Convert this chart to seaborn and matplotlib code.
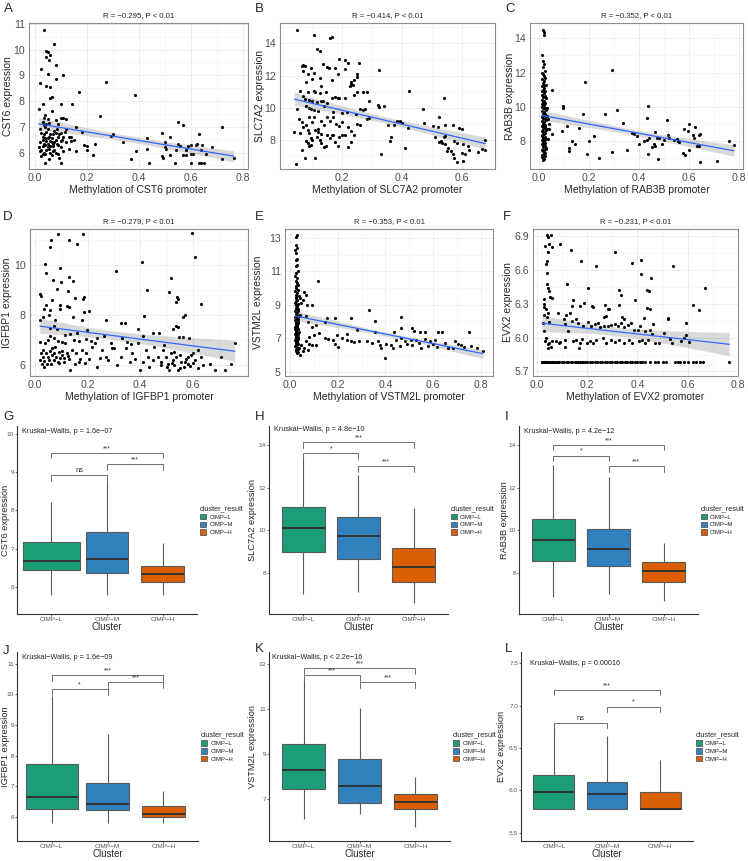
import numpy as np
import pandas as pd
import matplotlib
matplotlib.use("Agg")
import matplotlib.pyplot as plt
from matplotlib.patches import Patch
import seaborn as sns

# ---------------------------------------------------------------- data
genes = ["CST6", "SLC7A2", "RAB3B", "IGFBP1", "VSTM2L", "EVX2"]
scatter_titles = ["R = −0.295, P < 0.01", "R = −0.414, P < 0.01", "R = −0.352, P < 0.01",
                  "R = −0.279, P < 0.01", "R = −0.353, P < 0.01", "R = −0.231, P < 0.01"]

cst6_pts = [
    (0.035,10.75),(0.075,10.2),(0.045,9.95),(0.05,9.9),(0.06,9.8),(0.045,9.7),(0.055,9.6),(0.08,9.4),
    (0.025,9.25),(0.11,9.0),(0.05,9.05),(0.02,8.7),(0.08,8.85),(0.045,8.6),(0.06,8.55),(0.065,8.15),
    (0.06,8.1),(0.17,8.35),(0.275,8.75),(0.385,8.25),(0.03,7.9),(0.1,7.9),(0.145,7.9),(0.015,7.7),
    (0.065,7.6),(0.25,7.4),(0.04,7.45),(0.035,7.35),(0.05,7.3),(0.1,7.35),(0.11,7.35),(0.03,7.2),
    (0.055,7.15),(0.08,7.25),(0.09,7.1),(0.16,7.0),(0.12,7.3),
    (0.55,7.2),(0.57,7.05),(0.72,7.0),(0.63,6.7),(0.49,6.75),(0.52,6.6),(0.43,6.55),(0.3,6.7),
    (0.295,6.65),(0.34,6.4),(0.14,6.6),(0.15,6.5),(0.18,6.8),(0.19,6.3),(0.23,6.35),(0.2,6.25),
    (0.16,6.05),(0.13,6.6),(0.12,6.4),(0.5,6.4),(0.5,6.2),(0.505,6.15),(0.55,6.35),(0.56,6.25),
    (0.58,6.1),(0.59,6.25),(0.6,6.3),(0.62,6.3),(0.625,6.35),(0.6,5.95),(0.61,5.95),(0.64,6.1),
    (0.66,5.95),(0.68,6.2),(0.645,6.3),(0.43,6.15),(0.39,6.05),(0.37,5.75),(0.44,5.58),(0.49,5.85),
    (0.495,5.8),(0.52,5.9),(0.54,5.58),(0.545,6.1),(0.6,5.58),(0.63,5.58),(0.64,5.58),(0.65,5.58),
    (0.72,5.75),(0.765,5.8),(0.225,5.9),(0.2,6.1),(0.1,5.58),(0.04,5.58),(0.57,5.92),(0.58,5.92),
    (0.02,6.4),(0.025,6.1),(0.03,6.5),(0.035,6.0),(0.04,6.3),(0.045,6.8),(0.05,6.2),(0.055,6.6),
    (0.06,6.0),(0.065,6.4),(0.07,6.7),(0.075,6.1),(0.08,6.5),(0.085,6.9),(0.09,6.3),(0.095,6.7),
    (0.1,6.2),(0.105,6.5),(0.11,6.05),(0.115,6.8),(0.02,6.9),(0.025,5.85),(0.03,6.25),(0.035,6.7),
    (0.04,5.95),(0.045,6.45),(0.05,6.9),(0.055,6.15),(0.06,6.45),(0.065,5.9),(0.07,6.25),(0.075,6.85),
    (0.08,6.0),(0.085,6.35),(0.09,6.6),(0.095,5.8),(0.1,6.75),(0.03,6.6),(0.04,7.0),(0.05,6.55),
    (0.06,6.7),(0.07,6.35),(0.08,6.75),(0.09,5.95),(0.035,6.35),(0.045,6.1),(0.055,5.75),(0.065,6.55),
    (0.075,6.4),(0.02,6.05),(0.03,5.95),(0.05,6.35),(0.04,6.55),(0.06,6.25),(0.07,6.05),(0.13,6.15),
    (0.14,6.45),(0.12,6.9),(0.1,6.45),(0.11,6.6),(0.035,7.05),(0.045,7.1),(0.025,6.75),(0.015,6.2),
]

slc7a2_pts = [
    (0.05,14.85),(0.105,14.55),(0.16,14.35),(0.165,14.4),(0.115,13.65),(0.125,13.5),(0.19,13.0),
    (0.21,12.95),(0.255,12.8),(0.22,12.8),(0.07,12.65),(0.075,12.6),(0.065,12.6),(0.15,12.55),
    (0.155,12.45),(0.175,12.45),(0.095,12.5),(0.135,12.75),(0.325,12.35),(0.21,12.4),(0.07,12.3),
    (0.085,12.1),(0.105,12.15),(0.185,12.1),(0.25,12.1),(0.25,11.9),(0.125,11.85),(0.24,11.75),
    (0.23,11.6),(0.23,11.5),(0.235,11.4),(0.225,11.35),(0.165,11.75),(0.1,11.8),(0.08,11.6),
    (0.13,11.35),(0.425,11.05),(0.06,11.05),(0.085,11.0),(0.11,10.95),(0.105,11.05),(0.125,10.9),
    (0.145,11.0),(0.25,11.0),(0.27,10.95),(0.285,10.95),(0.24,10.8),(0.21,10.6),(0.185,10.6),
    (0.19,10.6),(0.175,10.65),(0.165,10.6),(0.07,10.75),(0.075,10.55),(0.09,10.5),(0.1,10.4),
    (0.115,10.35),(0.13,10.4),(0.135,10.45),(0.15,10.3),(0.14,10.1),(0.54,10.6),(0.29,10.4),
    (0.32,10.2),(0.325,10.05),(0.34,10.1),(0.26,9.95),(0.27,9.85),(0.275,9.9),(0.05,9.95),(0.08,10.1),
    (0.09,10.0),(0.095,9.95),(0.105,9.85),(0.12,9.8),(0.17,9.75),(0.2,9.7),(0.215,9.75),(0.245,9.6),
    (0.29,9.35),(0.285,9.3),(0.47,9.95),(0.525,9.45),(0.385,9.2),(0.395,9.2),(0.375,8.95),(0.4,9.05),
    (0.355,8.95),(0.42,8.75),(0.475,9.05),(0.505,8.85),(0.52,8.8),(0.545,8.9),(0.57,8.9),(0.59,8.75),
    (0.6,8.65),(0.51,8.2),(0.54,8.2),(0.545,8.25),(0.53,7.95),(0.525,7.85),(0.535,7.8),(0.545,7.75),
    (0.575,7.95),(0.585,7.8),(0.605,7.75),(0.62,7.6),(0.625,7.4),(0.655,7.25),(0.67,7.45),(0.68,7.35),
    (0.68,8.0),(0.555,7.5),(0.565,7.3),(0.57,7.1),(0.575,6.9),(0.585,6.6),(0.6,7.2),(0.605,6.7),
    (0.61,7.15),(0.55,7.3),(0.36,7.95),(0.365,8.2),(0.41,7.5),(0.33,7.1),(0.22,7.55),(0.23,7.85),
    (0.185,7.6),(0.175,7.85),(0.04,8.5),(0.045,6.5),(0.06,8.4),(0.065,7.35),(0.075,6.9),(0.08,7.95),
    (0.085,7.8),(0.09,7.65),(0.095,7.7),(0.1,8.0),(0.11,6.9),(0.115,8.2),(0.12,8.5),(0.125,8.0),
    (0.13,7.8),(0.14,7.55),(0.145,7.6),(0.15,8.3),(0.16,8.1),(0.165,8.3),(0.17,8.3),(0.19,8.2),
    (0.2,8.3),(0.21,8.3),(0.22,8.8),(0.23,8.55),(0.24,8.3),(0.25,9.0),(0.26,8.9),(0.055,9.3),
    (0.065,9.1),(0.07,8.8),(0.08,8.9),(0.09,9.4),(0.1,9.1),(0.105,9.4),(0.11,8.6),(0.12,8.7),
    (0.13,9.15),(0.14,8.9),(0.15,9.4),(0.16,9.2),(0.17,9.4),(0.18,9.0),(0.19,8.85),(0.2,9.1),
    (0.09,8.4),(0.085,8.6),(0.13,8.35),(0.095,8.1),
]

rab3b_pts = [
    (0.015,14.5),(0.018,14.35),(0.02,14.2),(0.012,13.05),(0.016,12.7),(0.02,12.5),(0.014,12.3),
    (0.022,12.1),(0.01,11.95),(0.018,11.8),(0.024,11.7),(0.012,11.6),(0.02,11.5),(0.016,11.4),
    (0.026,11.3),(0.01,11.2),(0.02,11.1),(0.014,11.0),(0.024,10.9),(0.018,10.8),(0.012,10.7),
    (0.022,10.6),(0.016,10.55),(0.028,10.5),(0.01,10.4),(0.02,10.3),(0.014,10.25),(0.024,10.2),
    (0.018,10.1),(0.012,10.0),(0.022,9.95),(0.016,9.9),(0.026,9.8),(0.01,9.75),(0.02,9.7),
    (0.014,9.6),(0.024,9.55),(0.018,9.5),(0.03,9.45),(0.012,9.4),(0.022,9.35),(0.016,9.3),
    (0.026,9.2),(0.01,9.15),(0.02,9.1),(0.014,9.0),(0.024,8.95),(0.018,8.9),(0.012,8.85),
    (0.022,8.8),(0.016,8.7),(0.028,8.65),(0.01,8.6),(0.02,8.55),(0.014,8.5),(0.024,8.45),
    (0.018,8.4),(0.012,8.3),(0.022,8.25),(0.016,8.2),(0.026,8.1),(0.01,8.05),(0.02,8.0),
    (0.014,7.95),(0.024,7.9),(0.018,7.85),(0.012,7.8),(0.022,7.7),(0.016,7.65),(0.026,7.6),
    (0.01,7.5),(0.02,7.45),(0.014,7.4),(0.024,7.3),(0.018,7.25),(0.012,7.2),(0.022,7.1),
    (0.016,7.0),(0.02,6.95),(0.014,6.9),
    (0.017,11.9),(0.021,11.25),(0.013,10.95),(0.025,10.65),(0.019,10.35),(0.011,10.15),(0.023,9.85),
    (0.015,9.65),(0.027,9.25),(0.019,8.75),(0.011,8.35),(0.023,8.15),(0.015,7.75),(0.027,7.55),
    (0.019,7.35),(0.011,7.05),(0.03,8.7),(0.032,9.9),(0.034,8.1),(0.036,9.3),
    (0.05,11.0),(0.095,10.05),(0.095,9.95),(0.185,11.45),(0.29,12.15),(0.175,9.6),(0.265,9.6),
    (0.31,9.8),(0.435,10.05),(0.43,9.35),(0.51,9.2),(0.335,9.05),(0.6,9.0),(0.58,8.7),(0.625,8.8),
    (0.64,8.35),(0.645,8.4),(0.62,8.2),(0.595,8.6),(0.09,8.6),(0.11,8.85),(0.16,8.75),(0.05,8.4),
    (0.04,8.7),(0.04,9.0),(0.2,8.0),(0.22,8.3),(0.12,7.6),(0.12,7.4),(0.13,8.0),(0.145,7.8),
    (0.19,7.25),(0.24,7.0),(0.29,7.35),(0.35,7.45),(0.37,8.45),(0.38,8.4),(0.39,8.3),(0.4,7.8),
    (0.42,8.0),(0.43,8.05),(0.44,8.15),(0.435,7.25),(0.45,7.65),(0.46,7.8),(0.465,8.5),(0.465,7.7),
    (0.47,8.2),(0.475,6.95),(0.48,8.15),(0.49,7.85),(0.5,8.05),(0.515,8.35),(0.52,8.15),(0.54,8.05),
    (0.55,8.1),(0.555,8.0),(0.56,7.95),(0.575,7.3),(0.585,7.15),(0.6,7.45),(0.615,8.35),(0.63,7.7),
    (0.64,7.7),(0.645,6.75),(0.71,6.85),(0.76,8.0),(0.78,7.75),
]

igfbp1_pts = [
    (0.086,11.26),(0.06,11.03),(0.055,10.75),(0.13,11.02),(0.16,10.85),(0.18,11.26),(0.596,11.3),
    (0.607,10.35),(0.405,10.14),(0.038,10.04),(0.096,9.9),(0.041,9.67),(0.307,9.77),(0.13,9.54),
    (0.144,9.35),(0.098,9.32),(0.066,9.4),(0.517,9.47),(0.424,9.0),(0.511,8.92),(0.017,8.86),
    (0.125,8.98),(0.083,9.05),(0.022,8.78),(0.54,8.73),(0.545,8.64),(0.535,8.54),(0.63,8.45),
    (0.184,8.71),(0.183,8.64),(0.15,8.68),(0.064,8.59),(0.042,8.41),(0.096,8.41),(0.032,8.24),
    (0.096,8.24),(0.121,8.35),(0.129,8.32),(0.204,8.14),(0.185,8.12),(0.179,7.8),(0.142,7.91),
    (0.415,7.94),(0.572,8.0),(0.562,7.91),(0.536,7.56),(0.545,7.5),(0.268,7.78),(0.077,7.8),
    (0.029,7.91),(0.051,8.0),(0.057,8.18),(0.019,7.8),(0.07,7.56),(0.083,7.44),(0.057,7.46),
    (0.198,7.4),(0.16,7.29),(0.262,7.15),(0.326,7.67),(0.341,7.67),(0.392,7.45),(0.409,7.15),
    (0.447,7.26),(0.473,7.26),(0.524,7.45),(0.549,7.13),(0.562,7.13),(0.584,7.06),(0.76,6.85),
    (0.709,6.31),(0.747,6.04),(0.721,5.77),(0.683,5.77),(0.664,6.04),(0.632,6.31),(0.619,6.58),
    (0.607,6.18),(0.594,6.38),(0.581,6.04),(0.575,6.24),(0.568,5.9),(0.556,6.11),(0.543,5.77),
    (0.536,6.31),(0.53,5.97),(0.524,6.18),(0.517,6.45),(0.511,5.77),(0.504,6.04),(0.498,6.31),
    (0.492,6.79),(0.488,6.58),(0.479,6.11),(0.466,6.31),(0.453,6.72),(0.447,6.18),(0.434,5.9),
    (0.428,6.31),(0.421,6.58),(0.409,6.11),(0.4,5.77),(0.39,6.85),(0.381,6.24),(0.37,6.45),
    (0.364,6.83),(0.361,6.11),(0.345,6.65),(0.326,6.31),(0.31,5.97),(0.294,6.65),(0.287,6.88),
    (0.277,6.18),(0.268,6.31),(0.255,6.58),(0.246,6.28),(0.236,5.9),(0.227,6.85),(0.217,6.72),
    (0.204,6.24),(0.195,6.45),(0.188,6.07),(0.179,6.58),(0.172,6.24),(0.166,6.11),(0.157,6.45),
    (0.15,6.04),(0.14,6.58),(0.132,5.77),(0.128,6.24),(0.119,6.45),(0.115,6.85),(0.109,6.11),
    (0.102,6.38),(0.096,6.28),(0.089,6.52),(0.086,6.11),(0.08,6.31),(0.077,6.72),(0.07,6.18),
    (0.064,6.38),(0.06,6.01),(0.055,6.56),(0.051,6.2),(0.045,6.04),(0.042,6.45),(0.038,6.85),
    (0.034,6.15),(0.029,6.31),(0.026,6.04),(0.022,6.47),(0.017,6.92),(0.019,6.18),(0.032,5.9),
    (0.047,6.99),(0.057,7.15),(0.073,7.06),(0.086,6.96),(0.102,6.92),(0.115,7.19),(0.134,7.23),
    (0.147,6.99),(0.166,6.96),(0.192,7.02),(0.211,6.96),(0.236,7.06),(0.3,6.65),(0.332,7.06),
    (0.351,6.92),(0.48,6.0),(0.5,5.9),(0.52,6.05),(0.55,5.85),(0.57,6.1),(0.59,5.95),(0.6,6.05),
    (0.62,5.85),(0.64,6.0),(0.55,6.4),(0.58,6.3),(0.53,6.5),(0.6,6.45),(0.05,6.3),(0.07,6.45),
    (0.09,6.05),(0.11,6.25),(0.03,6.6),(0.065,6.65),(0.1,6.55),(0.125,6.35),
]

vstm2l_pts = [
    (0.03,13.15),(0.028,13.05),(0.025,12.6),(0.03,12.4),(0.022,12.3),(0.028,12.1),(0.032,11.75),
    (0.026,11.7),(0.03,11.4),(0.024,11.3),(0.034,11.0),(0.028,10.9),(0.022,10.7),(0.032,10.6),
    (0.026,10.4),(0.03,10.3),(0.036,10.2),(0.024,10.1),(0.028,10.0),(0.034,9.9),(0.022,9.8),
    (0.03,9.7),(0.026,9.6),(0.038,9.5),(0.024,9.4),(0.032,9.3),(0.028,9.2),(0.022,9.1),(0.036,9.05),
    (0.026,9.0),(0.03,8.9),(0.024,8.8),(0.034,8.75),(0.028,8.7),(0.022,8.6),(0.032,8.55),(0.026,8.5),
    (0.03,8.4),(0.038,8.35),(0.024,8.3),(0.028,8.2),(0.034,8.15),(0.022,8.1),(0.03,8.0),(0.026,7.95),
    (0.036,7.9),(0.024,7.85),(0.032,7.8),(0.028,7.7),(0.022,7.65),(0.03,7.6),(0.034,7.55),(0.026,7.5),
    (0.024,7.45),(0.038,7.4),(0.028,7.35),(0.032,7.3),(0.022,7.25),(0.03,7.2),(0.026,7.15),(0.034,7.1),
    (0.024,7.05),(0.028,7.0),(0.036,6.95),(0.022,6.9),(0.032,6.85),(0.026,6.8),(0.03,6.75),(0.024,6.7),
    (0.034,6.65),(0.028,6.6),(0.022,6.55),(0.032,6.5),(0.026,6.45),(0.038,6.4),(0.03,6.35),(0.024,6.3),
    (0.028,6.25),(0.034,6.15),(0.03,6.1),
    (0.027,9.45),(0.031,8.95),(0.025,8.45),(0.033,8.05),(0.029,7.75),(0.023,7.55),(0.035,7.25),
    (0.027,6.95),(0.031,6.7),(0.025,6.55),(0.033,6.35),(0.029,7.05),(0.023,8.25),(0.035,8.65),
    (0.118,10.4),(0.061,9.79),(0.068,9.56),(0.054,9.26),(0.047,9.13),(0.07,8.97),(0.094,8.97),
    (0.041,9.4),(0.33,8.67),(0.467,8.28),(0.257,8.22),(0.157,8.22),(0.19,8.18),(0.041,8.41),
    (0.068,8.34),(0.149,7.95),(0.108,7.79),(0.075,7.99),(0.094,7.69),(0.356,8.03),(0.512,7.59),
    (0.519,7.44),(0.465,7.59),(0.546,7.36),(0.566,7.36),(0.621,7.4),(0.635,7.36),(0.75,7.36),
    (0.436,7.36),(0.356,7.36),(0.282,7.5),(0.241,7.24),(0.22,7.04),(0.122,7.3),(0.081,7.1),
    (0.102,7.2),(0.149,7.0),(0.16,6.96),(0.18,6.9),(0.198,7.2),(0.19,6.65),(0.2,6.45),(0.241,6.9),
    (0.255,6.85),(0.268,6.77),(0.289,6.81),(0.323,6.81),(0.343,6.71),(0.37,6.81),(0.377,6.57),
    (0.381,6.41),(0.404,6.65),(0.424,6.61),(0.431,6.41),(0.397,5.83),(0.446,6.9),(0.465,7.0),
    (0.483,6.81),(0.492,6.65),(0.505,6.9),(0.526,6.9),(0.54,6.71),(0.566,6.96),(0.587,6.81),
    (0.598,6.65),(0.608,6.9),(0.614,6.45),(0.662,6.41),(0.683,6.41),(0.702,6.65),(0.716,6.57),
    (0.73,6.45),(0.756,6.51),(0.784,6.41),(0.808,6.22),(0.69,6.85),(0.65,6.71),(0.58,6.51),
    (0.549,6.41),(0.512,6.61),(0.459,6.51),(0.068,6.81),(0.081,6.65),(0.094,6.57),(0.061,6.41),
    (0.075,6.32),(0.108,6.61),(0.047,6.57),(0.054,6.22),(0.041,6.02),
]

evx2_pts = [
    (0.02,5.78),(0.025,5.78),(0.03,5.78),(0.035,5.78),(0.04,5.78),(0.05,5.78),(0.06,5.78),(0.07,5.78),
    (0.085,5.78),(0.1,5.78),(0.12,5.78),(0.135,5.78),(0.15,5.78),(0.165,5.78),(0.18,5.78),(0.19,5.78),
    (0.2,5.78),(0.21,5.78),(0.22,5.78),(0.23,5.78),(0.24,5.78),(0.25,5.78),(0.26,5.78),(0.27,5.78),
    (0.28,5.78),(0.29,5.78),(0.3,5.78),(0.31,5.78),(0.32,5.78),(0.33,5.78),(0.34,5.78),(0.35,5.78),
    (0.36,5.78),(0.37,5.78),(0.38,5.78),(0.39,5.78),(0.4,5.78),(0.41,5.78),(0.42,5.78),(0.43,5.78),
    (0.45,5.78),(0.47,5.78),(0.48,5.78),(0.5,5.78),(0.515,5.78),(0.55,5.78),(0.56,5.78),(0.57,5.78),
    (0.585,5.78),(0.6,5.78),(0.62,5.78),(0.635,5.78),(0.65,5.78),(0.66,5.78),(0.765,5.78),
    (0.022,5.78),(0.028,5.78),(0.033,5.78),(0.038,5.78),(0.045,5.78),(0.055,5.78),(0.065,5.78),
    (0.075,5.78),(0.09,5.78),(0.11,5.78),(0.125,5.78),(0.14,5.78),(0.155,5.78),(0.17,5.78),(0.185,5.78),
    (0.039,6.91),(0.043,6.89),(0.056,6.91),(0.032,6.81),(0.049,6.83),(0.062,6.8),(0.092,6.83),
    (0.04,6.68),(0.036,6.65),(0.045,6.76),(0.137,6.77),(0.175,6.68),(0.234,6.63),(0.312,6.76),
    (0.377,6.66),(0.416,6.69),(0.416,6.56),(0.454,6.53),(0.542,6.63),(0.04,6.57),(0.04,6.47),
    (0.045,6.44),(0.049,6.41),(0.12,6.47),(0.053,6.36),(0.06,6.35),(0.202,6.44),(0.328,6.42),
    (0.334,6.38),(0.44,6.42),(0.448,6.41),(0.669,6.44),(0.392,6.33),(0.03,6.34),(0.027,6.3),
    (0.03,6.27),(0.036,6.25),(0.045,6.22),(0.085,6.22),(0.144,6.33),(0.14,6.28),(0.172,6.28),
    (0.188,6.31),(0.221,6.28),(0.224,6.27),(0.27,6.29),(0.282,6.25),(0.289,6.25),(0.325,6.29),
    (0.438,6.26),(0.45,6.25),(0.621,6.29),(0.646,6.24),(0.03,6.2),(0.039,6.18),(0.118,6.2),
    (0.131,6.22),(0.157,6.16),(0.269,6.18),(0.276,6.19),(0.338,6.18),(0.347,6.16),(0.427,6.17),
    (0.522,6.16),(0.522,6.17),(0.594,6.13),(0.025,6.13),(0.049,6.14),(0.107,6.16),(0.114,6.12),
    (0.14,6.15),(0.162,6.13),(0.185,6.1),(0.205,6.14),(0.217,6.1),(0.23,6.12),(0.243,6.13),
    (0.25,6.09),(0.269,6.1),(0.282,6.1),(0.295,6.11),(0.312,6.12),(0.321,6.1),(0.334,6.13),
    (0.347,6.09),(0.364,6.11),(0.373,6.13),(0.386,6.07),(0.403,6.07),(0.412,6.1),(0.431,6.06),
    (0.45,6.07),(0.457,6.03),(0.463,6.12),(0.505,6.04),(0.528,5.99),(0.586,6.0),(0.595,6.02),
    (0.03,6.06),(0.036,6.0),(0.032,5.97),(0.043,5.94),(0.049,5.95),(0.062,5.97),(0.075,5.97),
    (0.088,5.95),(0.094,5.96),(0.114,5.98),(0.123,6.06),(0.146,5.97),(0.157,5.98),(0.17,5.95),
    (0.179,5.99),(0.198,5.95),(0.211,5.97),(0.224,5.95),(0.237,5.98),(0.263,6.0),(0.276,5.95),
    (0.295,5.98),(0.312,5.96),(0.328,5.98),(0.347,5.95),(0.366,5.98),(0.379,5.95),(0.405,5.97),
    (0.418,5.98),(0.431,5.95),(0.444,5.98),(0.47,5.95),(0.485,5.95),(0.537,5.95),(0.573,5.97),
    (0.606,5.96),(0.043,5.91),(0.056,5.92),(0.114,5.92),(0.166,5.91),
]

scatter_data = [cst6_pts, slc7a2_pts, rab3b_pts, igfbp1_pts, vstm2l_pts, evx2_pts]
scatter_xlims = [(-0.022, 0.82), (-0.008, 0.712), (-0.037, 0.816), (-0.02, 0.81), (-0.02, 0.85), (-0.015, 0.80)]
scatter_ylims = [(5.36, 11.03), (6.19, 15.27), (6.36, 14.9), (5.54, 11.46), (4.74, 13.53), (5.66, 6.96)]
scatter_xticks = [[0.0, 0.2, 0.4, 0.6, 0.8], [0.2, 0.4, 0.6], [0.0, 0.2, 0.4, 0.6, 0.8],
                  [0.0, 0.2, 0.4, 0.6], [0.0, 0.2, 0.4, 0.6, 0.8], [0.0, 0.2, 0.4, 0.6, 0.8]]
scatter_yticks = [[6, 7, 8, 9, 10, 11], [8, 10, 12, 14], [8, 10, 12, 14],
                  [6, 8, 10], [5, 7, 9, 11, 13], [5.7, 6.0, 6.3, 6.6, 6.9]]
scatter_yfmt = ["{:.0f}", "{:.0f}", "{:.0f}", "{:.0f}", "{:.0f}", "{:.1f}"]

groups = ["CIMP−L", "CIMP−M", "CIMP−H"]
palette = ["#1B9E77", "#3181BD", "#D95F02"]

# five-number summaries [min, q1, median, q3, max] per cluster
cst6_box = [[5.78, 6.45, 6.68, 7.18, 8.21], [5.78, 6.36, 6.72, 7.43, 8.8], [5.78, 6.12, 6.34, 6.55, 7.15]]
slc7a2_box = [[7.02, 9.01, 10.12, 11.11, 13.4], [7.14, 8.65, 9.73, 10.65, 12.6], [6.63, 7.61, 8.31, 9.2, 11.04]]
rab3b_box = [[6.91, 8.57, 9.56, 10.55, 13.06], [7.02, 8.36, 9.12, 10.07, 12.48], [6.72, 7.61, 8.1, 8.55, 9.43]]
igfbp1_box = [[5.79, 6.25, 6.65, 7.72, 9.95], [5.79, 6.21, 6.43, 7.1, 8.72], [5.79, 6.0, 6.08, 6.35, 6.84]]
vstm2l_box = [[6.09, 7.45, 8.28, 9.44, 12.3], [6.31, 6.82, 7.58, 8.77, 11.05], [5.76, 6.53, 6.86, 7.19, 7.99]]
evx2_box = [[5.78, 5.78, 5.98, 6.18, 6.79], [5.78, 5.78, 5.96, 6.10, 6.64], [5.78, 5.78, 5.78, 5.98, 6.36]]
box_data = [cst6_box, slc7a2_box, rab3b_box, igfbp1_box, vstm2l_box, evx2_box]

kw_labels = ["Kruskal−Wallis, p = 1.6e−07", "Kruskal−Wallis, p = 4.8e−10", "Kruskal−Wallis, p = 4.2e−12",
             "Kruskal−Wallis, p = 1.6e−09", "Kruskal−Wallis, p < 2.2e−16", "Kruskal−Wallis, p = 0.00016"]

# pairwise comparisons: (group i, group j, bracket height, label)
cst6_sig = [(0, 1, 8.92, "ns"), (1, 2, 9.2, "***"), (0, 2, 9.5, "***")]
slc7a2_sig = [(0, 1, 13.6, "*"), (1, 2, 13.0, "***"), (0, 2, 14.12, "***")]
rab3b_sig = [(0, 1, 13.5, "*"), (1, 2, 13.0, "***"), (0, 2, 14.0, "***")]
igfbp1_sig = [(0, 1, 10.16, "*"), (1, 2, 10.4, "***"), (0, 2, 10.63, "***")]
vstm2l_sig = [(0, 1, 12.5, "***"), (1, 2, 12.2, "***"), (0, 2, 12.8, "***")]
evx2_sig = [(0, 1, 6.80, "ns"), (1, 2, 6.99, "*"), (0, 2, 7.19, "***")]
sig_data = [cst6_sig, slc7a2_sig, rab3b_sig, igfbp1_sig, vstm2l_sig, evx2_sig]

box_ylims = [(5.295, 10.2), (6.10, 14.88), (6.10, 14.88), (5.205, 11.386), (5.12, 13.53), (5.40, 7.636)]
box_yticks = [[6, 7, 8, 9, 10], [8, 10, 12, 14], [8, 10, 12, 14], [6, 7, 8, 9, 10, 11], [7, 9, 11, 13],
              [5.5, 6.0, 6.5, 7.0, 7.5]]
box_yfmt = ["{:.0f}"] * 5 + ["{:.1f}"]
# box widths per cluster (the CIMP-L box is drawn wider in panels G and J)
box_widths = [[1.04, 0.77, 0.77], [0.77, 0.77, 0.77], [0.77, 0.77, 0.77],
              [0.93, 0.77, 0.77], [0.77, 0.77, 0.77], [0.77, 0.77, 0.77]]

# ---------------------------------------------------------------- layout
sns.set_theme(style="white")
plt.rcParams["font.family"] = ["Liberation Sans", "DejaVu Sans"]
plt.rcParams["axes.unicode_minus"] = True

W, H = 748, 861
fig = plt.figure(figsize=(W / 100, H / 100), dpi=100)


def px_axes(l, t, r, b):
    return fig.add_axes([l / W, 1 - b / H, (r - l) / W, (b - t) / H])


scatter_boxes = [(29, 23, 248, 169), (280, 23, 495, 169), (530, 23, 743, 169),
                 (30, 229, 248, 376), (285, 229, 493, 376), (533, 229, 738, 376)]
scatter_ylab_x = [13, 265, 515, 12, 263, 513]
box_boxes = [(17, 426, 197, 614), (269, 426, 448, 614), (519, 426, 698, 614),
             (17, 652, 198, 841), (269, 652, 450, 841), (521, 652, 693, 841)]
box_ylab_x = [10.5, 257, 509, 10.5, 257, 506]
kw_pos = [(0.028, 0.972), (0.028, 0.98), (0.028, 0.972), (0.026, 0.969), (0.017, 0.969), (0.05, 0.9375)]

letters = ["A", "B", "C", "D", "E", "F", "G", "H", "I", "J", "K", "L"]
letter_pos = [(4, 9), (255, 9), (505, 9), (3, 217), (255, 217), (503, 217),
              (3, 417), (255, 417), (505, 417), (3, 651), (255, 649), (505, 649)]

# ---------------------------------------------------------------- scatter panels
for k in range(6):
    l, t, r, b = scatter_boxes[k]
    ax = px_axes(l, t, r, b)
    pts = scatter_data[k]
    df = pd.DataFrame({"meth": [p[0] for p in pts], "expr": [p[1] for p in pts]})
    sns.scatterplot(data=df, x="meth", y="expr", ax=ax, s=5, color="black", linewidth=0, zorder=2)
    # confidence band (grey) and fitted line (blue)
    n_before = len(ax.collections)
    sns.regplot(data=df, x="meth", y="expr", ax=ax, scatter=False, color="black", ci=95, seed=3,
                truncate=True, line_kws=dict(lw=0, alpha=0))
    for c in ax.collections[n_before:]:
        c.set_zorder(3)
    sns.regplot(data=df, x="meth", y="expr", ax=ax, scatter=False, ci=None, truncate=True,
                line_kws=dict(color="#3366FF", lw=0.9, zorder=4))
    xt = scatter_xticks[k]
    yt = scatter_yticks[k]
    ax.set_xticks(xt)
    ax.set_xticklabels(["{:.1f}".format(v) for v in xt])
    ax.set_yticks(yt)
    ax.set_yticklabels([scatter_yfmt[k].format(v) for v in yt])
    dx = xt[1] - xt[0]
    dy = yt[1] - yt[0]
    ax.set_xticks([xt[0] - dx / 2] + [v + dx / 2 for v in xt], minor=True)
    ax.set_yticks([yt[0] - dy / 2] + [v + dy / 2 for v in yt], minor=True)
    ax.set_xlim(*scatter_xlims[k])
    ax.set_ylim(*scatter_ylims[k])
    ax.grid(True, which="major", color="#EBEBEB", lw=0.6, zorder=0)
    ax.grid(True, which="minor", color="#F4F4F4", lw=0.4, zorder=0)
    ax.set_axisbelow(True)
    ax.tick_params(which="major", length=2, width=0.6, color="#333333", labelsize=7.6,
                   labelcolor="#4D4D4D", pad=1)
    ax.tick_params(which="minor", length=0)
    for s in ax.spines.values():
        s.set_visible(True)
        s.set_color("#8C8C8C")
        s.set_linewidth(0.8)
    ax.set_xlabel("Methylation of %s promoter" % genes[k], fontsize=7.5, labelpad=1.5)
    ax.set_ylabel("%s expression" % genes[k], fontsize=7.5)
    ax.yaxis.set_label_coords((scatter_ylab_x[k] - l) / (r - l), 0.5)
    ax.set_title(scatter_titles[k], fontsize=5.6, pad=4.5)

# ---------------------------------------------------------------- box panels
for k in range(6):
    l, t, r, b = box_boxes[k]
    ax = px_axes(l, t, r, b)
    for gi, g in enumerate(groups):
        vals = box_data[k][gi]
        df = pd.DataFrame({"Cluster": [g] * len(vals), "expr": vals})
        sns.boxplot(data=df, x="Cluster", y="expr", order=groups, color=palette[gi],
                    saturation=1, whis=(0, 100), width=box_widths[k][gi], linecolor="#5A5A5A",
                    linewidth=0.8, showcaps=False, showfliers=False, ax=ax,
                    medianprops=dict(color="#333333", linewidth=1.4))
    ax.set_xlim(-0.62, 2.62)
    ylo, yhi = box_ylims[k]
    ax.set_ylim(ylo, yhi)
    ax.set_yticks(box_yticks[k])
    ax.set_yticklabels([box_yfmt[k].format(v) for v in box_yticks[k]])
    tip = 0.03 * (yhi - ylo)
    for (i, j, y, lab) in sig_data[k]:
        ax.plot([i, i, j, j], [y - tip, y, y, y - tip], color="#6E6E6E", lw=0.7)
        ax.text((i + j) / 2, y + 0.004 * (yhi - ylo), lab, ha="center", va="bottom",
                fontsize=5.6 if lab == "ns" else 5.0, color="#333333")
    ax.text(kw_pos[k][0], kw_pos[k][1], kw_labels[k], transform=ax.transAxes, ha="left", va="center",
            fontsize=5.2, color="#222222")
    for side in ["top", "right"]:
        ax.spines[side].set_visible(False)
    for side in ["left", "bottom"]:
        ax.spines[side].set_color("#333333")
        ax.spines[side].set_linewidth(0.8)
    ax.tick_params(length=1.5, width=0.5, color="#333333", labelsize=4.6, labelcolor="#555555", pad=0.6)
    ax.tick_params(axis="x", bottom=True)
    ax.tick_params(axis="y", left=True)
    ax.set_xlabel("Cluster", fontsize=6.9, labelpad=0.3)
    ax.set_ylabel("%s expression" % genes[k], fontsize=6.7)
    ax.yaxis.set_label_coords((box_ylab_x[k] - l) / (r - l), 0.5)
    handles = [Patch(facecolor=c, edgecolor="#5A5A5A", linewidth=0.6) for c in palette]
    ax.legend(handles, groups, title="cluster_result", loc="center left", bbox_to_anchor=(1.015, 0.5),
              frameon=False, fontsize=4.3, title_fontsize=5.3, handlelength=1.1, handleheight=1.0,
              handletextpad=0.5, labelspacing=0.35, borderaxespad=0, borderpad=0, alignment="left")

for lab, (x, y) in zip(letters, letter_pos):
    fig.text(x / W, 1 - y / H, lab, fontsize=9.5, ha="left", va="center")

fig.savefig("out.png", dpi=100)
